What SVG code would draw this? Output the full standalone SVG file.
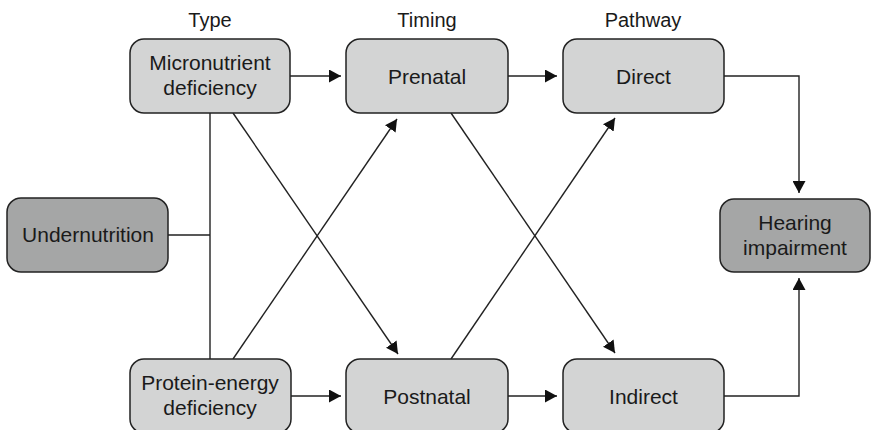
<svg xmlns="http://www.w3.org/2000/svg" width="871" height="430" viewBox="0 0 871 430">
<style>
.box{fill:#d3d4d4;stroke:#222;stroke-width:1.5}
.dark{fill:#a5a6a6;stroke:#222;stroke-width:1.5}
.t{font-family:"Liberation Sans",Arial,sans-serif;font-size:21px;fill:#1a1a1a;text-anchor:middle}
.h{font-family:"Liberation Sans",Arial,sans-serif;font-size:20px;fill:#1a1a1a;text-anchor:middle}
.c{fill:none;stroke:#222;stroke-width:1.4}
</style>
<defs>
<marker id="arr" markerUnits="userSpaceOnUse" markerWidth="12" markerHeight="13" refX="12" refY="6.5" orient="auto">
<path d="M0,0 L12,6.5 L0,13 z" fill="#111"/>
</marker>
</defs>
<rect width="871" height="430" fill="#fff"/>
<g id="headers">
<text class="h" x="210" y="27">Type</text>
<text class="h" x="427" y="27">Timing</text>
<text class="h" x="643" y="27">Pathway</text>
</g>
<g id="connectors">
<path class="c" d="M210,113 V359 M168,235 H210"/>
<path class="c" d="M290,76 H341" marker-end="url(#arr)"/>
<path class="c" d="M508,76 H557" marker-end="url(#arr)"/>
<path class="c" d="M291,396 H341" marker-end="url(#arr)"/>
<path class="c" d="M508,396 H557" marker-end="url(#arr)"/>
<path class="c" d="M724,76 H799 V193" marker-end="url(#arr)"/>
<path class="c" d="M724,396 H799 V278" marker-end="url(#arr)"/>
<path class="c" d="M233,113 L398,354" marker-end="url(#arr)"/>
<path class="c" d="M233,359 L397,119" marker-end="url(#arr)"/>
<path class="c" d="M451,113 L615,353" marker-end="url(#arr)"/>
<path class="c" d="M451,359 L615,118" marker-end="url(#arr)"/>
</g>
<g id="micronutrient">
<rect class="box" x="130" y="39" width="160" height="74" rx="14"/>
<text class="t" x="210" y="70">Micronutrient</text>
<text class="t" x="210" y="95">deficiency</text>
</g>
<g id="undernutrition">
<rect class="dark" x="7" y="198" width="161" height="74" rx="14"/>
<text class="t" x="88" y="242">Undernutrition</text>
</g>
<g id="protein">
<rect class="box" x="130" y="359" width="161" height="74" rx="14"/>
<text class="t" x="210" y="390">Protein-energy</text>
<text class="t" x="210" y="415">deficiency</text>
</g>
<g id="prenatal">
<rect class="box" x="346" y="39" width="162" height="74" rx="14"/>
<text class="t" x="427" y="83.5">Prenatal</text>
</g>
<g id="postnatal">
<rect class="box" x="346" y="359" width="162" height="74" rx="14"/>
<text class="t" x="427" y="403.5">Postnatal</text>
</g>
<g id="direct">
<rect class="box" x="563" y="39" width="161" height="74" rx="14"/>
<text class="t" x="643.5" y="83.5">Direct</text>
</g>
<g id="indirect">
<rect class="box" x="563" y="359" width="161" height="74" rx="14"/>
<text class="t" x="643.5" y="403.5">Indirect</text>
</g>
<g id="hearing">
<rect class="dark" x="720" y="199" width="150" height="73" rx="14"/>
<text class="t" x="795" y="230">Hearing</text>
<text class="t" x="795" y="255">impairment</text>
</g>
</svg>
